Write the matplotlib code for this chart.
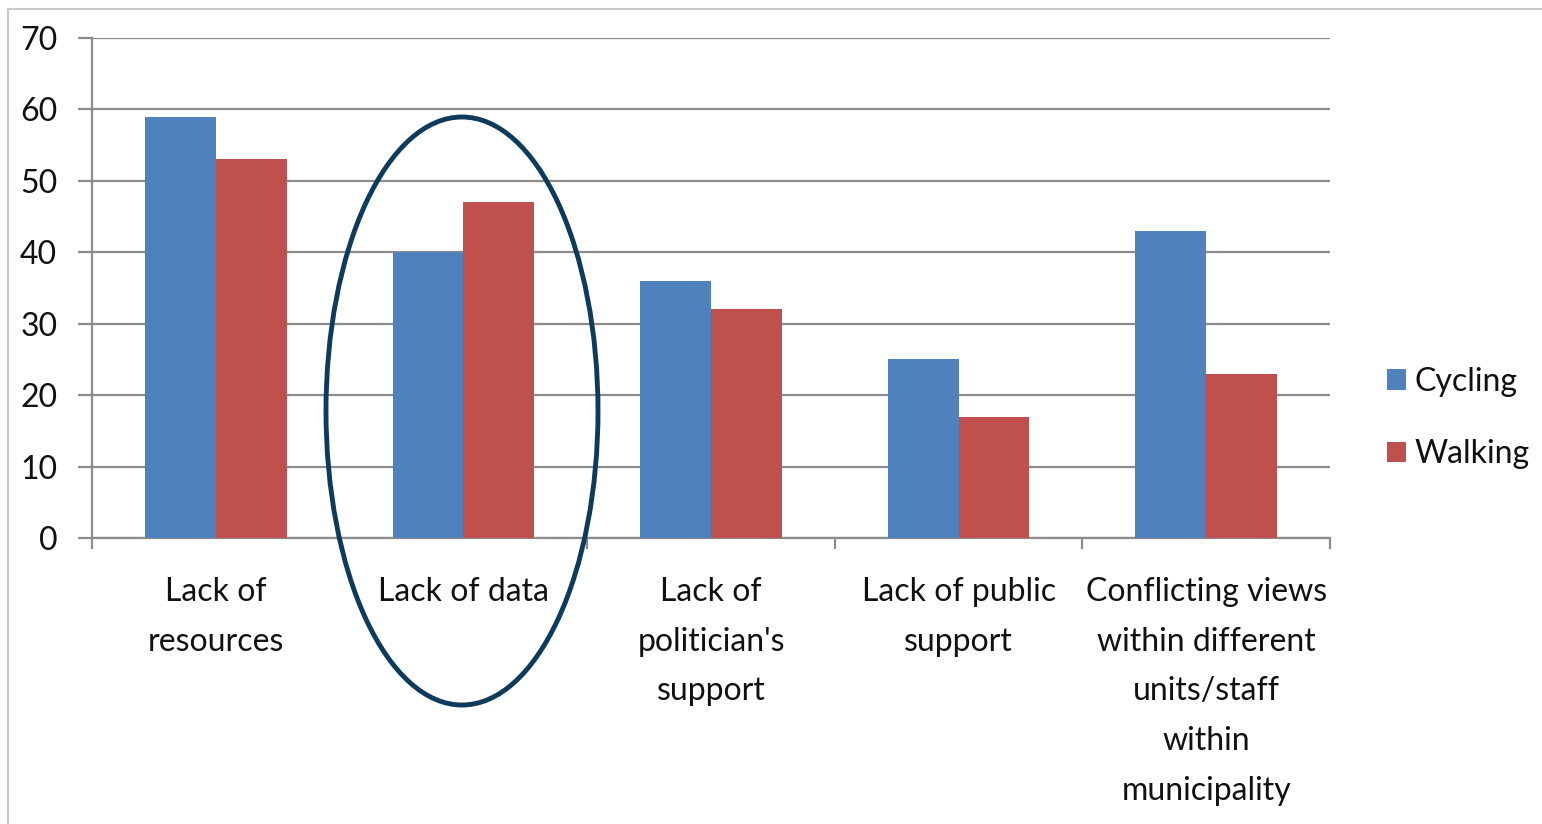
import numpy as np
import matplotlib
matplotlib.use("Agg")
from matplotlib import pyplot as plt
from matplotlib.patches import Ellipse
from matplotlib.lines import Line2D

categories = ["Lack of\nresources", "Lack of data", "Lack of\npolitician's\nsupport",
              "Lack of public\nsupport",
              "Conflicting views\nwithin different\nunits/staff\nwithin\nmunicipality"]
cycling = [59, 40, 36, 25, 43]
walking = [53, 47, 32, 17, 23]
yticks = [0, 10, 20, 30, 40, 50, 60, 70]

plt.rcParams['font.family'] = ['Lato', 'DejaVu Sans']

W, H = 1542, 824
fig = plt.figure(figsize=(W / 100, H / 100), dpi=100)
ax = fig.add_axes([92 / W, (H - 538) / H, (1330 - 92) / W, 500 / H])

x = np.arange(len(categories))
bw = 1 / 3.5
b1 = ax.bar(x - bw / 2, cycling, bw, color="#4F81BD", label="Cycling", zorder=3)
b2 = ax.bar(x + bw / 2, walking, bw, color="#C0504D", label="Walking", zorder=3)

grid_c = "#8C8C8C"
txt_c = "#111111"
fs = 23
ax.set_ylim(0, 70)
ax.set_xlim(-0.5, len(categories) - 0.5)
ax.set_yticks(yticks)
ax.yaxis.grid(True, color=grid_c, lw=1.6, zorder=0)
ax.set_axisbelow(True)
for s in ["top", "right"]:
    ax.spines[s].set_visible(False)
for s in ["left", "bottom"]:
    ax.spines[s].set_color(grid_c)
    ax.spines[s].set_linewidth(1.6)

ax.tick_params(axis="y", length=10, width=1.6, color=grid_c, pad=15, labelsize=fs, labelcolor=txt_c)
ax.set_xticks(np.arange(len(categories) + 1) - 0.5)
ax.set_xticklabels([])
ax.tick_params(axis="x", which="major", length=8, width=1.6, color=grid_c)
ax.set_xticks(x, minor=True)
ax.set_xticklabels(categories, minor=True, fontsize=fs, color=txt_c, linespacing=1.82, va="top")
ax.tick_params(axis="x", which="minor", length=0, pad=28)

fig.legend(handles=[b1, b2], loc="center left", bbox_to_anchor=(1387 / W, 1 - 418 / H),
           frameon=False, fontsize=fs, handlelength=0.6, handleheight=0.6,
           handletextpad=0.27, labelspacing=1.33, borderpad=0, borderaxespad=0,
           labelcolor=txt_c)

ell = Ellipse((462 / W, 1 - 411 / H), 272 / W, 588 / H, transform=fig.transFigure,
              fill=False, ec="#0E3A5C", lw=3.5)
fig.patches.append(ell)

border = "#C8C8C8"
fig.add_artist(Line2D([8 / W, 1], [1 - 9 / H, 1 - 9 / H], transform=fig.transFigure, color=border, lw=1.5))
fig.add_artist(Line2D([8 / W, 8 / W], [0, 1 - 9 / H], transform=fig.transFigure, color=border, lw=1.5))

fig.savefig("out.png", dpi=100)
